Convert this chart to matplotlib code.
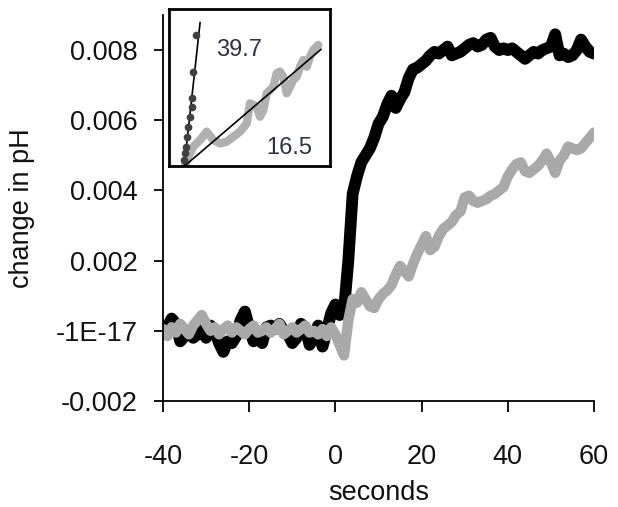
import numpy as np
import matplotlib.pyplot as plt

plt.rcParams["font.family"] = ["Liberation Sans", "DejaVu Sans"]
plt.rcParams["axes.unicode_minus"] = False

# time in seconds, values in units of 0.001 pH
seconds = list(range(-40, 61))

black_trace = [
    -0.05, 0.1, 0.35, 0.2, -0.3, -0.15, -0.05, -0.2, -0.1, 0.05,
    -0.2, 0.15, 0.0, -0.35, -0.6, -0.3, -0.35, -0.15, 0.3, 0.55,
    0.1, -0.3, -0.2, -0.35, 0.1, 0.15, 0.05, 0.2, 0.0, -0.1,
    -0.35, -0.2, 0.2, 0.1, -0.4, -0.2, 0.15, -0.45, 0.0, 0.5,
    0.75, 0.45, 0.6, 2.0, 3.9, 4.4, 4.8, 5.0, 5.2, 5.5,
    5.9, 6.1, 6.45, 6.7, 6.35, 6.6, 6.8, 7.2, 7.45, 7.5,
    7.6, 7.7, 7.85, 7.95, 7.9, 8.0, 8.1, 7.85, 7.9, 7.95,
    8.05, 8.15, 8.2, 8.1, 8.15, 8.3, 8.35, 8.1, 8.0, 8.05,
    8.0, 8.05, 7.95, 7.85, 7.75, 7.85, 7.95, 7.9, 8.0, 8.05,
    8.1, 8.45, 7.85, 7.9, 7.8, 7.85, 8.0, 8.3, 8.1, 7.95,
    7.9,
]

gray_trace = [
    0.05, -0.15, 0.1, -0.05, 0.2, 0.05, -0.1, 0.15, 0.3, 0.45,
    0.2, 0.0, 0.1, -0.1, 0.05, 0.15, -0.05, 0.1, 0.0, -0.1,
    0.05, 0.15, -0.05, 0.0, 0.1, -0.05, 0.05, 0.2, -0.1, 0.0,
    0.1, -0.05, 0.05, 0.15, -0.05, 0.0, -0.1, 0.05, -0.15, 0.1,
    -0.1, -0.4, -0.7, 0.3, 0.9, 0.8, 1.1, 0.9, 0.7, 0.65,
    0.9, 1.05, 1.15, 1.3, 1.6, 1.85, 1.7, 1.55, 1.9, 2.2,
    2.45, 2.7, 2.3, 2.4, 2.7, 2.9, 3.0, 3.1, 3.3, 3.4,
    3.8, 3.85, 3.7, 3.65, 3.7, 3.75, 3.85, 3.9, 4.0, 4.1,
    4.4, 4.6, 4.75, 4.8, 4.55, 4.5, 4.6, 4.7, 4.85, 5.05,
    4.8, 4.5, 4.85, 5.0, 5.25, 5.2, 5.15, 5.2, 5.35, 5.5,
    5.65,
]

y_ticks = [-0.002, 0.0, 0.002, 0.004, 0.006, 0.008]
y_tick_labels = ["-0.002", "-1E-17", "0.002", "0.004", "0.006", "0.008"]
x_ticks = [-40, -20, 0, 20, 40, 60]

# inset (normalised units)
inset_black_x = [0.093, 0.099, 0.106, 0.112, 0.118, 0.130, 0.143, 0.143, 0.149, 0.168]
inset_black_y = [0.038, 0.083, 0.121, 0.185, 0.248, 0.312, 0.376, 0.433, 0.599, 0.834]
inset_gray_x = [0.10, 0.12, 0.151, 0.193, 0.234, 0.275, 0.317, 0.358, 0.400, 0.441,
                0.483, 0.503, 0.545, 0.565, 0.586, 0.607, 0.648, 0.669, 0.689, 0.710,
                0.731, 0.752, 0.772, 0.793, 0.814, 0.834, 0.855, 0.876, 0.896, 0.927]
inset_gray_y = [0.005, 0.06, 0.123, 0.166, 0.219, 0.166, 0.144, 0.155, 0.187, 0.219,
                0.272, 0.399, 0.378, 0.314, 0.357, 0.463, 0.505, 0.590, 0.601, 0.569,
                0.463, 0.505, 0.548, 0.569, 0.632, 0.675, 0.632, 0.696, 0.739, 0.771]
fit_black_x = [0.095, 0.193]
fit_black_y = [0.002, 0.913]
fit_gray_x = [0.099, 0.944]
fit_gray_y = [0.002, 0.743]
slope_black = "39.7"
slope_gray = "16.5"

W, H = 618, 507
fig = plt.figure(figsize=(W / 100, H / 100), dpi=100)
ax = fig.add_axes([163 / W, 1 - 401 / H, (594 - 163) / W, (401 - 15) / H])

t = np.array(seconds)
ax.plot(t, np.array(black_trace) * 1e-3, color="black", lw=8.5,
        solid_joinstyle="round", solid_capstyle="round")
ax.plot(t, np.array(gray_trace) * 1e-3, color="#a9a9a9", lw=7.5,
        solid_joinstyle="round", solid_capstyle="round")

ax.set_xlim(-40, 60)
ax.set_ylim(-0.002, 0.009)
ax.set_xticks(x_ticks)
ax.set_xticklabels([str(v) for v in x_ticks])
ax.set_yticks(y_ticks)
ax.set_yticklabels(y_tick_labels)
for s in ["top", "right"]:
    ax.spines[s].set_visible(False)
for s in ["left", "bottom"]:
    ax.spines[s].set_linewidth(1.3)
ax.tick_params(axis="x", length=8, width=1.3, pad=23, labelsize=19.5, labelcolor="#111111")
ax.tick_params(axis="y", length=6.5, width=1.3, pad=12, labelsize=19.5, labelcolor="#111111")

fig.text(378.5 / W, 1 - 500 / H, "seconds", ha="center", va="baseline",
         fontsize=19.5, color="#111111")
fig.text(22 / W, 1 - 208 / H, "change in pH", ha="center", va="center",
         rotation=90, fontsize=19.5, color="#111111")

# inset
ins = fig.add_axes([169 / W, 1 - 166 / H, (330 - 169) / W, (166 - 9) / H])
ins.plot(inset_gray_x, inset_gray_y, color="#b0b0b0", lw=6,
         solid_joinstyle="round", solid_capstyle="round")
ins.plot(fit_gray_x, fit_gray_y, color="black", lw=1.2)
ins.plot(fit_black_x, fit_black_y, color="black", lw=1.2)
ins.plot(inset_black_x, inset_black_y, "o", color="#404040", ms=4.5)
ins.text(0.435, 0.74, slope_black, ha="center", va="center", fontsize=17, color="#2e3140")
ins.text(0.75, 0.115, slope_gray, ha="center", va="center", fontsize=17, color="#2e3140")
ins.set_xlim(0, 1)
ins.set_ylim(0, 1)
ins.set_xticks([])
ins.set_yticks([])
for s in ins.spines.values():
    s.set_linewidth(2)

fig.savefig("out.png", dpi=100)
